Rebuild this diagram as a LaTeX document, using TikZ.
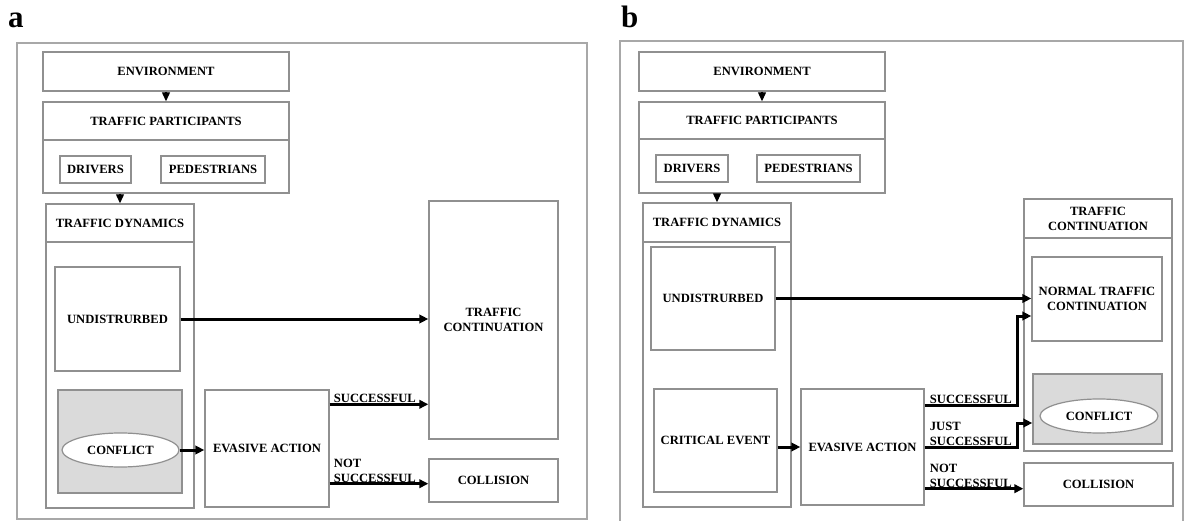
\documentclass[tikz,border=0pt]{standalone}
\usepackage{fontspec}
\setmainfont{Liberation Serif}
\usetikzlibrary{arrows.meta,shapes.geometric}
\definecolor{boxgray}{HTML}{909090}
\definecolor{framegray}{HTML}{A8A8A8}
\definecolor{shadegray}{HTML}{DADADA}
\begin{document}
\begin{tikzpicture}[x=1pt,y=-1pt,
  font=\fontsize{12.6}{15}\selectfont\bfseries,
  sz/.style 2 args={minimum width=#1pt, minimum height=#2pt},
  box/.style={rectangle, draw=boxgray, line width=1.4pt, fill=white, inner sep=1pt, align=center},
  shadebox/.style={box, fill=shadegray},
  ell/.style={ellipse, draw=boxgray, line width=1.2pt, fill=white, inner sep=0pt},
  frame/.style={draw=framegray, line width=1.3pt},
  conn/.style={line width=3pt, line join=miter, -{Triangle[length=9pt,width=8.5pt]}},
  tip/.style={line width=1.2pt, -{Triangle[length=9pt,width=8pt]}},
  lbl/.style={inner sep=1pt, align=left, anchor=south west},
  panel/.style={inner sep=0pt, anchor=base west, font=\fontsize{31}{31}\selectfont\bfseries}]
\useasboundingbox (0,0) rectangle (1185,521);
\fill[white] (0,0) rectangle (1185,521);

% ---------------- panel a ----------------
\node[panel] (la) at (8,28) {a};
\node[rectangle, frame, sz={570}{476}] (frameA) at (302,281) {};
\node[box, sz={246}{39}] (envA) at (166,71.5) {ENVIRONMENT};
\node[box, sz={246}{38}] (partA) at (166,121) {TRAFFIC PARTICIPANTS};
\node[box, sz={246}{53}] (contA) at (166,166.5) {};
\node[box, sz={71}{27}] (drvA) at (95.5,169.5) {DRIVERS};
\node[box, sz={104}{27}] (pedA) at (213,169.5) {PEDESTRIANS};
\node[box, sz={148}{38}] (dynA) at (120,223) {TRAFFIC DYNAMICS};
\node[box, sz={148}{266}] (dynBodyA) at (120,375) {};
\node[box, sz={125}{104}] (undA) at (117.5,319) {UNDISTRURBED};
\node[shadebox, sz={124}{103}] (confBoxA) at (120,441.5) {};
\node[ell, sz={117}{34}] (confA) at (120.5,450) {CONFLICT};
\node[box, sz={124}{117}] (evaA) at (267,448.5) {EVASIVE ACTION};
\node[box, sz={129}{238}] (tcA) at (493.5,320) {TRAFFIC\\CONTINUATION};
\node[box, sz={129}{43}] (colA) at (493.5,480.5) {COLLISION};

\draw[tip] (envA.south) -- (partA.north);
\draw[tip] (dynA.north |- contA.south) -- (dynA.north);
\draw[conn] (undA.east) -- (undA.east -| tcA.west);
\draw[conn] (confA.east) -- (confA.east -| evaA.west);
\coordinate (sA) at ([yshift=-15pt]evaA.north east);
\coordinate (nA) at ([yshift=24pt]evaA.south east);
\draw[conn] (sA) -- (sA -| tcA.west);
\draw[conn] (nA) -- (nA -| colA.west);
\node[lbl] (lsA) at ([xshift=3pt]sA) {SUCCESSFUL};
\node[lbl] (lnA) at ([xshift=3pt]nA) {NOT\\SUCCESSFUL};

% ---------------- panel b ----------------
\node[panel] (lb) at (621,28) {b};
\draw[frame] (620,521) -- (620,41) -- (1183,41) -- (1183,521);
\node[box, sz={246}{39}] (envB) at (762,71.5) {ENVIRONMENT};
\node[box, sz={246}{37}] (partB) at (762,120.5) {TRAFFIC PARTICIPANTS};
\node[box, sz={246}{54}] (contB) at (762,166) {};
\node[box, sz={72}{27}] (drvB) at (692,168.5) {DRIVERS};
\node[box, sz={103}{27}] (pedB) at (808.5,168.5) {PEDESTRIANS};
\node[box, sz={148}{39}] (dynB) at (717,222.5) {TRAFFIC DYNAMICS};
\node[box, sz={148}{265}] (dynBodyB) at (717,374.5) {};
\node[box, sz={124}{103}] (undB) at (713,298.5) {UNDISTRURBED};
\node[box, sz={123}{103}] (critB) at (715.5,440.5) {CRITICAL EVENT};
\node[box, sz={123}{116}] (evaB) at (862.5,447) {EVASIVE ACTION};
\node[box, sz={148}{39}] (tcHeadB) at (1098,218.5) {TRAFFIC\\CONTINUATION};
\node[box, sz={148}{213}] (tcBodyB) at (1098,344.5) {};
\node[box, sz={130}{84}] (normB) at (1097,299) {NORMAL TRAFFIC\\CONTINUATION};
\node[shadebox, sz={129}{70}] (confBoxB) at (1097.5,409) {};
\node[ell, sz={118}{34}] (confB) at (1099,416) {CONFLICT};
\node[box, sz={149}{43}] (colB) at (1098.5,484.5) {COLLISION};

\draw[tip] (envB.south) -- (partB.north);
\draw[tip] (dynB.north |- contB.south) -- (dynB.north);
\draw[conn] (undB.east) -- (undB.east -| normB.west);
\draw[conn] (critB.east |- evaB.west) -- (evaB.west);
\coordinate (sB) at ([yshift=-17pt]evaB.north east);
\coordinate (jB) at (evaB.east);
\coordinate (nB) at ([yshift=17pt]evaB.south east);
\coordinate (bendS) at (1017,316);
\coordinate (bendJ) at (1017,423);
\draw[conn] (sB) -- (sB -| bendS) -- (bendS) -- (bendS -| normB.west);
\draw[conn] (jB) -- (jB -| bendJ) -- (bendJ) -- (bendJ -| confBoxB.west);
\draw[conn] (nB) -- (nB -| colB.west);
\node[lbl] (lsB) at ([xshift=4pt]sB) {SUCCESSFUL};
\node[lbl] (ljB) at ([xshift=4pt]jB) {JUST\\SUCCESSFUL};
\node[lbl] (lnB) at ([xshift=4pt]nB) {NOT\\SUCCESSFUL};
\end{tikzpicture}
\end{document}
